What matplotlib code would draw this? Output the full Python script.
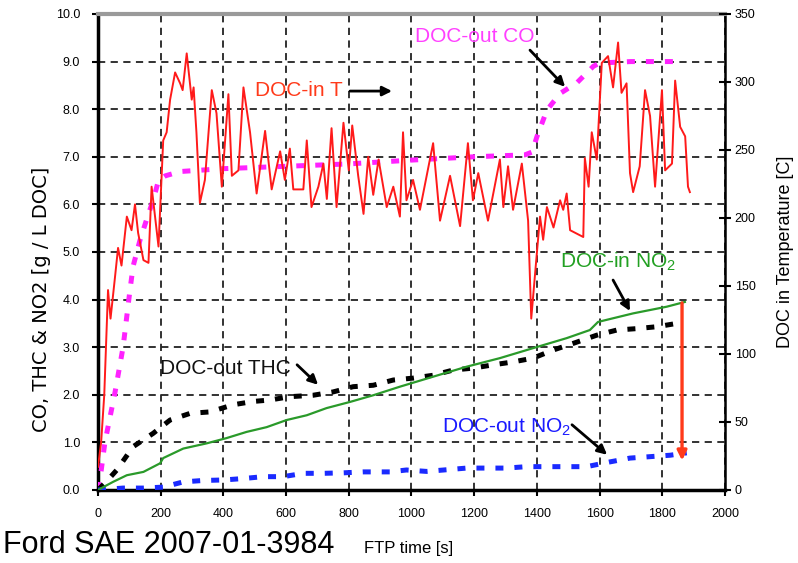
import numpy as np
import matplotlib
matplotlib.use('Agg')
import matplotlib.pyplot as plt

plt.rcParams['font.family'] = ['Liberation Sans', 'DejaVu Sans']
plt.rcParams['mathtext.fontset'] = 'custom'
plt.rcParams['mathtext.rm'] = 'Liberation Sans'
plt.rcParams['mathtext.default'] = 'regular'

# DOC-in temperature [C] (right axis)
t_temp = [0, 10, 20, 32, 40, 54, 64, 75, 92, 107, 118, 128, 145, 161, 171, 182, 193,
          208, 219, 230, 246, 262, 270, 283, 299, 305, 314, 325, 341, 363, 378, 395,
          416, 427, 448, 464, 485, 506, 533, 554, 581, 596, 612, 623, 655, 666, 681,
          703, 719, 730, 745, 761, 783, 800, 811, 830, 847, 862, 878, 895, 921, 942,
          963, 973, 984, 1005, 1027, 1069, 1091, 1123, 1155, 1180, 1196, 1213, 1244,
          1282, 1293, 1308, 1324, 1352, 1372, 1382, 1395, 1410, 1420, 1432, 1453,
          1474, 1484, 1495, 1506, 1548, 1553, 1565, 1575, 1591, 1607, 1627, 1643,
          1659, 1670, 1686, 1697, 1707, 1728, 1745, 1761, 1777, 1799, 1809, 1831,
          1841, 1857, 1873, 1882, 1888]
temp = [17, 35, 70, 147, 126, 156, 178, 165, 201, 191, 210, 189, 169, 167, 223, 201, 179,
        257, 263, 287, 307, 299, 294, 321, 287, 296, 263, 211, 228, 294, 277, 223,
        291, 231, 235, 296, 263, 218, 264, 221, 249, 228, 251, 221, 221, 257, 208,
        223, 240, 214, 266, 208, 270, 235, 268, 231, 203, 245, 217, 243, 208, 223,
        201, 263, 213, 228, 206, 255, 198, 231, 194, 255, 213, 233, 198,
        243, 208, 238, 206, 240, 198, 126, 161, 201, 184, 208, 193,
        213, 206, 218, 191, 186, 244, 223, 263, 243, 314, 319, 296,
        329, 292, 299, 233, 219, 238, 294, 275, 223, 294, 235, 240,
        301, 267, 260, 223, 219]

# DOC-out CO [g/L]
t_co = [0, 10, 22, 54, 80, 102, 112, 134, 156, 176, 193, 215, 262, 400, 600, 800,
        1000, 1200, 1362, 1385, 1400, 1432, 1474, 1527, 1580, 1600, 1700, 1835]
co = [0, 0.4, 1.0, 2.04, 3.0, 4.2, 4.7, 5.25, 5.7, 6.09, 6.5, 6.6, 6.69, 6.75, 6.8, 6.85,
      6.93, 7.0, 7.04, 7.1, 7.42, 7.98, 8.33, 8.55, 8.9, 8.97, 9.0, 9.0]

# DOC-out THC [g/L]
t_thc = [0, 30, 60, 112, 176, 230, 294, 357, 431, 495, 548, 612, 686, 750, 814, 878,
         942, 1005, 1069, 1133, 1197, 1261, 1324, 1388, 1452, 1516, 1590, 1655, 1719,
         1783, 1847]
thc = [0, 0.2, 0.42, 0.91, 1.19, 1.47, 1.61, 1.64, 1.79, 1.86, 1.89, 1.96, 1.99, 2.06,
       2.17, 2.2, 2.31, 2.35, 2.41, 2.52, 2.56, 2.63, 2.69, 2.77, 2.94, 3.08, 3.25, 3.36,
       3.39, 3.43, 3.5]

# DOC-in NO2 [g/L]
t_no2_in = [0, 48, 92, 145, 198, 208, 272, 347, 410, 474, 538, 602, 666, 729, 804, 878,
            963, 1069, 1176, 1282, 1388, 1495, 1569, 1595, 1707, 1814, 1872]
no2_in = [0, 0.17, 0.31, 0.38, 0.56, 0.67, 0.87, 0.98, 1.09, 1.22, 1.32, 1.47, 1.57, 1.72,
          1.85, 1.99, 2.17, 2.38, 2.59, 2.77, 2.98, 3.19, 3.36, 3.53, 3.71, 3.85, 3.95]

# DOC-out NO2 [g/L]
t_no2_out = [0, 80, 144, 208, 272, 336, 400, 463, 527, 591, 655, 719, 783, 846, 931, 984,
             1048, 1176, 1303, 1367, 1442, 1559, 1633, 1697, 1761, 1825, 1878]
no2_out = [0, 0.04, 0.04, 0.06, 0.17, 0.2, 0.21, 0.24, 0.28, 0.28, 0.35, 0.35, 0.36, 0.38,
           0.38, 0.42, 0.39, 0.46, 0.46, 0.49, 0.49, 0.49, 0.59, 0.67, 0.7, 0.73, 0.78]

fig = plt.figure(figsize=(7.98, 5.63), dpi=100)
ax = fig.add_axes([0.1228, 0.1297, 0.7857, 0.8455])

dots = (0, (1.6, 2.2))
ax.plot(t_co, co, color='#ff22ff', lw=3.6, ls=dots, zorder=3)
ax.plot(t_thc, thc, color='black', lw=3.6, ls=dots, zorder=3)
ax.plot(t_no2_out, no2_out, color='#1a2aff', lw=3.6, ls=dots, zorder=3)
ax.plot(t_no2_in, no2_in, color='#2a9a2a', lw=1.6, zorder=4)

ax.set_xlim(0, 2000)
ax.set_ylim(0, 10)
ax.set_xticks(np.arange(0, 2001, 200))
ax.set_yticks(np.arange(0, 10.1, 1))
ax.set_yticklabels([f'{v:.1f}' for v in np.arange(0, 10.1, 1)])
ax.grid(True, color='#222222', ls=(0, (4, 3)), lw=1.3)
ax.set_axisbelow(True)
ax.tick_params(axis='both', direction='out', length=4, width=1.5, labelsize=9, pad=9,
               right=False)

for side, lw, col in [('left', 2.5, 'black'), ('bottom', 2.5, 'black'),
                      ('top', 3, '#9a9a9a'), ('right', 1.8, 'black')]:
    ax.spines[side].set_linewidth(lw)
    ax.spines[side].set_color(col)

ax.set_ylabel('CO, THC & NO2 [g / L DOC]', fontsize=14, family='DejaVu Sans')
ax.yaxis.set_label_coords(-0.075, 0.40)

ax2 = ax.twinx()
ax2.plot(t_temp, temp, color='#ff1a1a', lw=1.4, zorder=5)
ax2.set_ylim(0, 350)
ax2.set_yticks(np.arange(0, 351, 50))
ax2.tick_params(axis='y', direction='inout', length=8, width=1.5, labelsize=9, pad=3)
for s in ax2.spines.values():
    s.set_visible(False)
ax2.set_ylabel('DOC in Temperature [C]', fontsize=13)
ax2.yaxis.set_label_coords(1.083, 0.5)

arrow = dict(arrowstyle='-|>', color='black', lw=2, mutation_scale=14,
             shrinkA=0, shrinkB=0)
ax.annotate('', xy=(938, 8.38), xytext=(804, 8.38), arrowprops=arrow, zorder=6)
ax.annotate('', xy=(1490, 8.47), xytext=(1378, 9.24), arrowprops=arrow, zorder=6)
ax.annotate('', xy=(1697, 3.76), xytext=(1643, 4.41), arrowprops=arrow, zorder=6)
ax.annotate('', xy=(702, 2.21), xytext=(635, 2.63), arrowprops=arrow, zorder=6)
ax.annotate('', xy=(1624, 0.74), xytext=(1512, 1.37), arrowprops=arrow, zorder=6)
ax.annotate('', xy=(1863, 0.62), xytext=(1863, 3.93),
            arrowprops=dict(arrowstyle='-|>', color='#ff3a1a', lw=2.4,
                            mutation_scale=14, shrinkA=0, shrinkB=0), zorder=6)

fs = 15
ax.text(501, 8.4, 'DOC-in T', color='#ff3a1a', fontsize=fs, va='center', zorder=6)
ax.text(1011, 9.52, 'DOC-out CO', color='#ff40ff', fontsize=fs, va='center', zorder=6)
ax.text(1474, 4.79, 'DOC-in NO$_2$', color='#22a022', fontsize=fs, va='center', zorder=6)
ax.text(198, 2.56, 'DOC-out THC', color='#111111', fontsize=fs, va='center', zorder=6)
ax.text(1097, 1.32, 'DOC-out NO$_2$', color='#1a1aff', fontsize=fs, va='center', zorder=6)

fig.text(3 / 798, 1 - 545 / 563, 'Ford SAE 2007-01-3984', fontsize=22, va='center')
fig.text(364 / 798, 1 - 549 / 563, 'FTP time [s]', fontsize=12, va='center')

fig.savefig('out.png', dpi=100)
